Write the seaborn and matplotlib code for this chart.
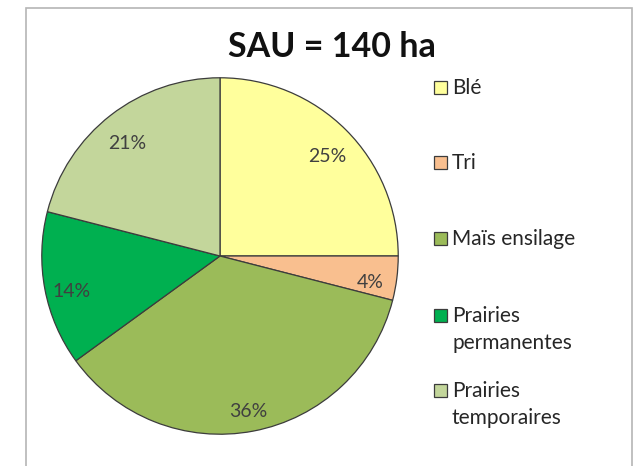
import matplotlib.pyplot as plt
import seaborn as sns
from matplotlib.patches import Rectangle

# data
categories = ["Blé", "Tri", "Maïs ensilage", "Prairies\npermanentes", "Prairies\ntemporaires"]
shares = [25, 4, 36, 14, 21]
hex_colors = ["#FFFF9C", "#F9BF8F", "#9BBB59", "#00B050", "#C3D69B"]
title = "SAU = 140 ha"

sns.set_theme(style="white")
plt.rcParams['font.family'] = ['Lato', 'DejaVu Sans']
palette = sns.color_palette(hex_colors)

W, H = 637, 466
fig = plt.figure(figsize=(W / 100, H / 100), dpi=100)
fig.patch.set_facecolor("white")

# outer chart frame (bottom runs off the image)
fig.add_artist(Rectangle((26 / W, -0.1), (632 - 26) / W, 1.1 - 8 / H,
                         transform=fig.transFigure, fill=False,
                         edgecolor="#B5B5B5", linewidth=1.2))

ax = fig.add_axes([40 / W, (H - 436) / H, 360 / W, 360 / H])
wedges, texts, autotexts = ax.pie(
    shares, colors=palette, startangle=90, counterclock=False,
    autopct="%1.0f%%", pctdistance=0.85,
    wedgeprops=dict(edgecolor="#3C3C3C", linewidth=0.9),
    textprops=dict(fontsize=14, color="#404040"))
# Excel sits its data labels a little lower than the wedge centroid
for t in autotexts:
    x, y = t.get_position()
    t.set_position((x, y - 0.04))
ax.set_xlim(-1.01, 1.01)
ax.set_ylim(-1.01, 1.01)
ax.set_aspect("equal")

fig.text(332 / W, 1 - 47 / H, title, ha="center", va="center",
         fontsize=24.5, fontweight="bold", color="#111111")

# legend drawn by hand to follow the Excel-like spacing
first_line_y = [87, 162, 238, 315, 390]
line_step = 27
sq = 13
for wedge, label, y in zip(wedges, categories, first_line_y):
    fig.add_artist(Rectangle((434 / W, 1 - (y + sq / 2) / H), sq / W, sq / H,
                             transform=fig.transFigure,
                             facecolor=wedge.get_facecolor(),
                             edgecolor="#3C3C3C", linewidth=0.9))
    for k, line in enumerate(label.split("\n")):
        fig.text(452 / W, 1 - (y + k * line_step + 7) / H, line,
                 ha="left", va="baseline", fontsize=15, color="#262626")

fig.savefig("out.png", dpi=100)
